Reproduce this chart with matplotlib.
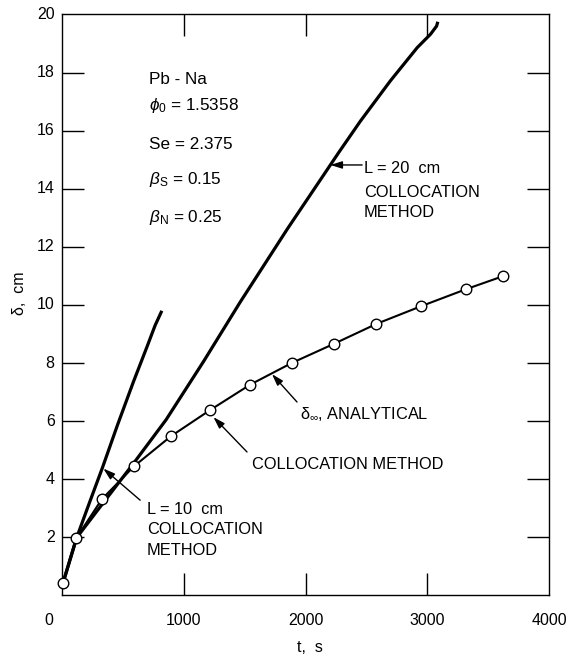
import matplotlib
matplotlib.use("Agg")
import matplotlib.pyplot as plt

plt.rcParams['font.family'] = ['Liberation Sans', 'DejaVu Sans']
plt.rcParams['mathtext.fontset'] = 'custom'
plt.rcParams['mathtext.rm'] = 'Liberation Sans'
plt.rcParams['mathtext.it'] = 'Liberation Sans:italic'

# delta_inf analytical solution (circles), t in s, delta in cm
t_anal = [5, 115, 324, 590, 892, 1210, 1545, 1884, 2236, 2582, 2944, 3316, 3621]
d_anal = [0.42, 1.97, 3.31, 4.45, 5.48, 6.37, 7.26, 8.00, 8.67, 9.35, 9.95, 10.54, 10.99]

# collocation method, L = 10 cm
t_l10 = [5, 118, 228, 330, 452, 584, 695, 763, 818]
d_l10 = [0.42, 1.99, 3.25, 4.40, 5.85, 7.35, 8.55, 9.30, 9.80]

# collocation method, L = 20 cm
t_l20 = [5, 118, 324, 593, 853, 1160, 1462, 1850, 2272, 2450, 2697, 2917, 3026, 3076, 3086]
d_l20 = [0.42, 1.99, 3.12, 4.59, 6.05, 8.05, 10.10, 12.62, 15.25, 16.33, 17.72, 18.86, 19.32, 19.60, 19.75]

x_ticks = [1000, 2000, 3000]
x_labels = ['1000', '2000', '3000', '4000']
y_ticks = [2, 4, 6, 8, 10, 12, 14, 16, 18]
y_labels = ['2', '4', '6', '8', '10', '12', '14', '16', '18', '20']

params = ['Pb - Na', r'$\phi_\mathrm{0}$ = 1.5358', 'Se = 2.375',
          r'$\beta_\mathrm{S}$ = 0.15', r'$\beta_\mathrm{N}$ = 0.25']

FS = 11.8

fig = plt.figure(figsize=(5.7, 6.58), dpi=100)
ax = fig.add_axes([0.1093, 0.095, 0.9632 - 0.1093, 0.978 - 0.095])

ax.plot(t_l10, d_l10, color='black', lw=2.3, solid_capstyle='butt')
ax.plot(t_l20, d_l20, color='black', lw=2.3, solid_capstyle='butt')
ax.plot(t_anal, d_anal, color='black', lw=1.5, marker='o', ms=7.6,
        mfc='white', mec='black', mew=1.0, clip_on=False, zorder=5)

ax.set_xlim(0, 4000)
ax.set_ylim(0, 20)

# inward ticks on all four sides
ax.set_xticks(x_ticks)
ax.set_xticklabels([])
ax.set_yticks(y_ticks)
ax.set_yticklabels([])
ax.tick_params(axis='both', direction='in', length=16, width=1.0,
               top=True, right=True)
for s in ax.spines.values():
    s.set_linewidth(1.0)

# tick labels
for v, lab in zip([1000, 2000, 3000, 4000], x_labels):
    ax.annotate(lab, xy=(v, 0), xycoords='data', xytext=(0, -18),
                textcoords='offset points', ha='center', va='center',
                fontsize=11.5, annotation_clip=False)
ax.annotate('0', xy=(0, 0), xycoords='data', xytext=(-10, -18),
            textcoords='offset points', ha='center', va='center',
            fontsize=11.5, annotation_clip=False)
for v, lab in zip(y_ticks + [20], y_labels):
    ax.annotate(lab, xy=(0, v), xycoords='data', xytext=(-5.5, 0),
                textcoords='offset points', ha='right', va='center',
                fontsize=11.5, annotation_clip=False)

fig.text(20 / 570, 1 - 293 / 658, 'δ,  cm', rotation=90, ha='center',
         va='center', fontsize=11.5)
fig.text(310 / 570, 1 - 648 / 658, 't,  s', ha='center', va='center',
         fontsize=11.5)

# parameter block
for lab, yb in zip(params, [17.61, 16.71, 15.37, 14.16, 12.85]):
    ax.text(714, yb, lab, ha='left', va='baseline', fontsize=12.3)

arrow = dict(arrowstyle='-|>,head_length=0.7,head_width=0.22',
             color='black', lw=1.0, shrinkA=0, shrinkB=0)

# L = 20 cm
ax.annotate('', xy=(2203, 14.82), xytext=(2464, 14.82), arrowprops=arrow)
for lab, yb in zip(['L = 20  cm', 'COLLOCATION', 'METHOD'], [14.53, 13.73, 13.02]):
    ax.text(2480, yb, lab, ha='left', va='baseline', fontsize=FS)

# analytical
ax.annotate('', xy=(1723, 7.62), xytext=(1929, 6.66), arrowprops=arrow)
ax.text(1956, 6.09, r'δ$_\infty$, ANALYTICAL', ha='left', va='baseline',
        fontsize=FS)

# collocation method (circles)
ax.annotate('', xy=(1242, 6.14), xytext=(1518, 4.94), arrowprops=arrow)
ax.text(1559, 4.37, 'COLLOCATION METHOD', ha='left', va='baseline',
        fontsize=FS)

# L = 10 cm
ax.annotate('', xy=(337, 4.37), xytext=(640, 3.28), arrowprops=arrow)
for lab, yb in zip(['L = 10  cm', 'COLLOCATION', 'METHOD'], [2.82, 2.10, 1.39]):
    ax.text(695, yb, lab, ha='left', va='baseline', fontsize=FS)

fig.savefig('out.png', dpi=100)
